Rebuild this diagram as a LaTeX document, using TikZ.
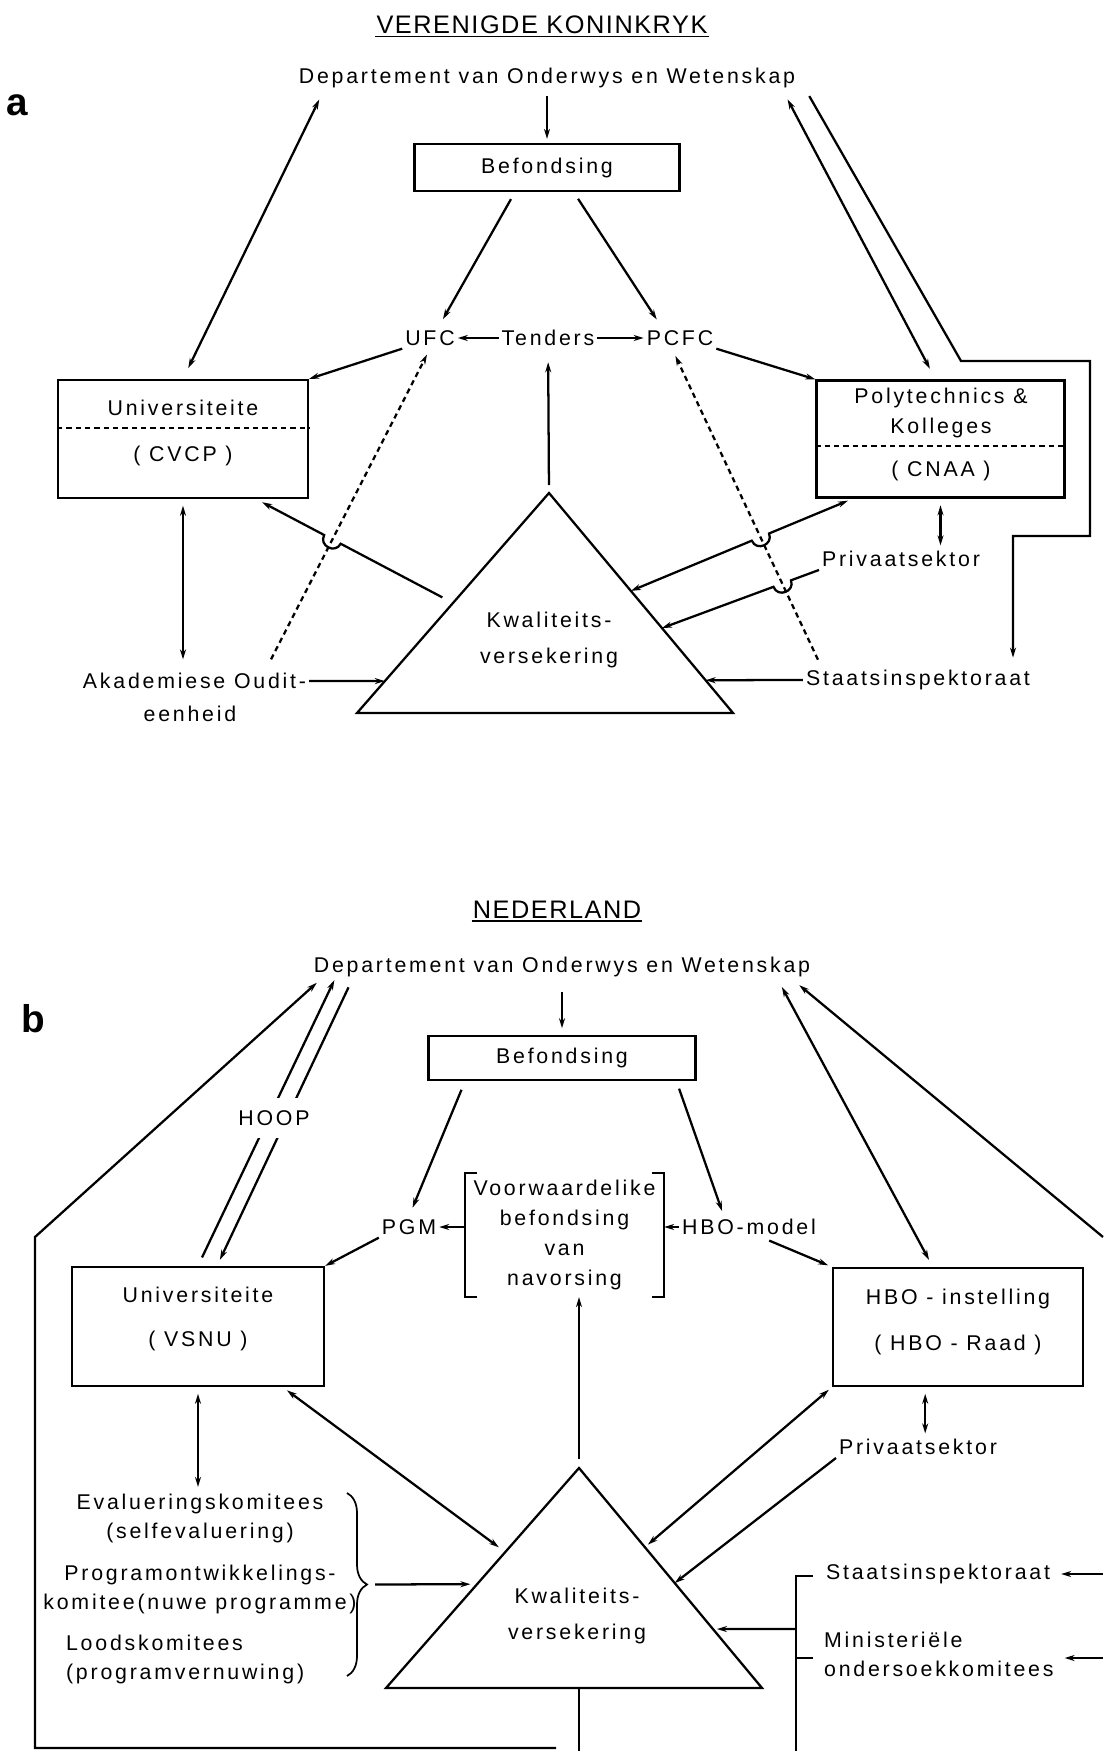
\documentclass[tikz,border=0pt]{standalone}
\usepackage{fontspec}
\setmainfont{Liberation Sans}[LetterSpace=13]
\newfontfamily\headfont{Liberation Sans}[LetterSpace=6]
\usetikzlibrary{calc,arrows.meta,intersections,decorations.pathreplacing}

\tikzset{
  arr/.style={-{Stealth[length=7.5pt,width=4.5pt]}},
  dbl/.style={{Stealth[length=7.5pt,width=4.5pt]}-{Stealth[length=7.5pt,width=4.5pt]}},
  dsh/.style={dash pattern=on 4pt off 3pt},
  txt/.style={inner sep=1.5pt},
  boxnode/.style={draw, inner sep=0pt},
  head/.style={inner xsep=0pt, inner ysep=1pt, font=\headfont\fontsize{19}{22}\selectfont},
  panel/.style={inner sep=0pt, font=\fontsize{29}{30}\selectfont\bfseries},
  twoline/.style={inner sep=1.5pt, align=center, font=\fontsize{16}{21.75}\selectfont},
  kwal/.style={inner sep=1.5pt, align=center, font=\fontsize{16}{27}\selectfont},
  bracketnode/.style={inner sep=0pt, align=center, font=\fontsize{16}{22.5}\selectfont},
}

\begin{document}
\begin{tikzpicture}[x=0.75pt,y=0.75pt,yscale=-1,xscale=1, line width=1.7pt, font=\fontsize{16}{19}\selectfont]
\path [use as bounding box, fill=white] (0,0) rectangle (1103,1751);

%%%%%%%% a : Verenigde Koninkryk

% Text Node
\draw (542,25) node [head] (ttlA) {VERENIGDE KONINKRYK};
\draw [line width=1.1pt] (ttlA.south west) -- (ttlA.south east);
% Text Node
\draw (17,105) node [panel] (labA) {a};
% Text Node
\draw (547,78) node [txt] (deptA) {Departement van Onderwys en Wetenskap};
% Shape: Rectangle
\draw (547,167.5) node [boxnode, minimum width=198.75pt, minimum height=35.25pt] (befA) {Befondsing};
% Text Node
\draw (430,338) node [txt] (ufcA) {UFC};
% Text Node
\draw (548,338) node [txt] (tendA) {Tenders};
% Text Node
\draw (680,338) node [txt] (pcfcA) {PCFC};

% Shape: Rectangle
\draw (183,439) node [boxnode, minimum width=187.5pt, minimum height=88.5pt] (univA) {};
\draw (183,408) node [txt] (univAt) {Universiteite};
\draw (183,456) node [txt] (cvcpA) {( CVCP )};
\draw [dsh] (univA.west |- 0,428) -- (univA.east |- 0,428);

% Shape: Rectangle
\draw (940.5,439) node [boxnode, minimum width=186pt, minimum height=87.75pt] (polyA) {};
\draw (941,398) node [txt] (polyAt1) {Polytechnics \&};
\draw (941,428) node [txt] (polyAt2) {Kolleges};
\draw (941,471) node [txt] (cnaaA) {( CNAA )};
\draw [dsh] (polyA.west |- 0,446) -- (polyA.east |- 0,446);

% Shape: Triangle
\coordinate (tAa) at (549,493);
\coordinate (tAl) at (357,713);
\coordinate (tAr) at (733,713);
\draw (tAa) -- (tAl) -- (tAr) -- cycle;
\draw (549,640) node [kwal] (kwalA) {Kwaliteits-\\versekering};

% Text Node
\draw (194.5,681) node [txt] (akadA) {Akademiese Oudit-};
\draw (190,714) node [txt] (eenhA) {eenheid};
% Text Node
\draw (918,680) node [txt] (staatsA) {Staatsinspektoraat};
% Text Node
\draw (901,559) node [txt] (privA) {Privaatsektor};

%Straight Lines
\draw [arr, shorten <=4pt, shorten >=3pt] (deptA) -- (befA);
\draw [arr, shorten <=6pt, shorten >=7pt] ($(befA.south)!0.24!(befA.south west)$) -- ($(ufcA.north)!0.3!(ufcA.north east)$);
\draw [arr, shorten <=6pt, shorten >=7pt] ($(befA.south)!0.2!(befA.south east)$) -- ($(pcfcA.north)!0.5!(pcfcA.north west)$);
\draw [arr] (tendA) -- (ufcA);
\draw [arr] (tendA) -- (pcfcA);
\draw [arr] (ufcA.south west) -- (univA.north east);
\draw [arr] (pcfcA.south east) -- (polyA.north west);
\draw [arr, shorten <=6pt, shorten >=10pt] (tAa) -- (tendA);
\draw [dbl, shorten <=7pt, shorten >=9pt] ($(deptA.south west)!0.055!(deptA.south east)$) -- (univA.north);
\draw [dbl, shorten <=7pt, shorten >=9pt] ($(deptA.south west)!0.97!(deptA.south east)$) -- ($(polyA.north west)!0.48!(polyA.north east)$);

%Straight Lines: loop to Staatsinspektoraat
\coordinate (lpA1) at (961,361);
\coordinate (lpA2) at (1090,361);
\coordinate (lpA3) at (1090,536);
\coordinate (lpA4) at (1013,536);
\draw [arr, shorten >=7pt] ($(deptA.south east)+(11,5)$) -- (lpA1) -- (lpA2) -- (lpA3) -- (lpA4) -- (lpA4 |- staatsA.north);

\draw [dbl, shorten <=5pt, shorten >=8pt] (univA.south) -- (univA.south |- akadA.north);
\coordinate (kA1) at ($(tAa)!0.855!(tAl)$);
\coordinate (kA2) at ($(tAa)!0.851!(tAr)$);
\draw [arr] (akadA.east) -- (kA1);
\draw [arr] (staatsA.west) -- (kA2);
\draw [dbl, shorten <=5pt, shorten >=2pt] (polyA.south) -- (polyA.south |- privA.north);

%Dashed Lines
\draw [arr, dsh, name path=dshA1, shorten <=9pt, shorten >=5pt] ($(akadA.north west)!0.81!(akadA.north east)$) -- (ufcA.south);
\draw [arr, dsh, name path=dshA2, shorten <=6pt, shorten >=6pt] ($(staatsA.north west)!0.08!(staatsA.north east)$) -- ($(pcfcA.south west)!0.39!(pcfcA.south east)$);

%Lines with hops
\coordinate (sA1) at ($(tAa)!0.5!(tAl)$);
\coordinate (eA1) at ($(univA.south east)!0.21!(univA.south west)$);
\path [name path=solA1] (sA1) -- (eA1);
\path [name intersections={of=solA1 and dshA1, by=xA1}];
\coordinate (xA1a) at ($(xA1)!7pt!(sA1)$);
\coordinate (xA1b) at ($(xA1)!7pt!(eA1)$);
\draw [arr, shorten <=9pt, shorten >=5pt] (sA1) -- (xA1a) .. controls ($(xA1a)!9pt!-90:(xA1b)$) and ($(xA1b)!9pt!90:(xA1a)$) .. (xA1b) -- (eA1);

\coordinate (sA2) at ($(tAa)!0.445!(tAr)$);
\coordinate (eA2) at ($(polyA.south west)!0.15!(polyA.south east)$);
\path [name path=solA2] (sA2) -- (eA2);
\path [name intersections={of=solA2 and dshA2, by=xA2}];
\coordinate (xA2a) at ($(xA2)!7pt!(sA2)$);
\coordinate (xA2b) at ($(xA2)!7pt!(eA2)$);
\draw [dbl, shorten >=4pt] (sA2) -- (xA2a) .. controls ($(xA2a)!9pt!90:(xA2b)$) and ($(xA2b)!9pt!-90:(xA2a)$) .. (xA2b) -- (eA2);

\coordinate (sA3) at (privA.south west);
\coordinate (eA3) at ($(tAa)!0.614!(tAr)$);
\path [name path=solA3] (sA3) -- (eA3);
\path [name intersections={of=solA3 and dshA2, by=xA3}];
\coordinate (xA3a) at ($(xA3)!7pt!(sA3)$);
\coordinate (xA3b) at ($(xA3)!7pt!(eA3)$);
\draw [arr] (sA3) -- (xA3a) .. controls ($(xA3a)!9pt!-90:(xA3b)$) and ($(xA3b)!9pt!90:(xA3a)$) .. (xA3b) -- (eA3);

%%%%%%%% b : Nederland

% Text Node
\draw (557,910) node [head] (ttlB) {NEDERLAND};
\draw [line width=1.1pt] (ttlB.south west) -- (ttlB.south east);
% Text Node
\draw (33,1019) node [panel] (labB) {b};
% Text Node
\draw (562,967) node [txt] (deptB) {Departement van Onderwys en Wetenskap};
% Shape: Rectangle
\draw (562,1058) node [boxnode, minimum width=200.25pt, minimum height=33pt] (befB) {Befondsing};
% Text Node
\draw (409,1227) node [txt] (pgmB) {PGM};
\draw (749,1227) node [txt] (hbomB) {HBO-model};
% Text Node
\draw (564.5,1235) node [bracketnode, minimum width=147.75pt, minimum height=91.5pt] (vorwB) {Voorwaardelike\\befondsing\\van\\navorsing};
\draw ($(vorwB.north west)+(12,0)$) -- (vorwB.north west) -- (vorwB.south west) -- ++(12,0);
\draw ($(vorwB.north east)+(-12,0)$) -- (vorwB.north east) -- (vorwB.south east) -- ++(-12,0);

% Shape: Rectangle
\draw (198,1326.5) node [boxnode, minimum width=189pt, minimum height=89.25pt] (univB) {};
\draw (198,1295) node [txt] (univBt) {Universiteite};
\draw (198,1341) node [txt] (vsnuB) {( VSNU )};
% Shape: Rectangle
\draw (958,1327) node [boxnode, minimum width=187.5pt, minimum height=88.5pt] (hboB) {};
\draw (958,1299) node [txt] (hboBt) {HBO - instelling};
\draw (958,1345) node [txt] (raadB) {( HBO - Raad )};

% Shape: Triangle
\coordinate (tBa) at (579,1468);
\coordinate (tBl) at (386,1688);
\coordinate (tBr) at (762,1688);
\draw (tBa) -- (tBl) -- (tBr) -- cycle;
\draw (577,1616) node [kwal] (kwalB) {Kwaliteits-\\versekering};

% Text Node
\draw (918,1447) node [txt] (privB) {Privaatsektor};
\draw (200,1518.5) node [twoline] (evalB) {Evalueringskomitees\\(selfevaluering)};
\draw (200,1589.5) node [twoline] (progB) {Programontwikkelings-\\komitee(nuwe programme)};
\draw (63,1659.5) node [twoline, align=left, anchor=west] (loodB) {Loodskomitees\\(programvernuwing)};
\draw (823,1574) node [txt, anchor=west] (staatsB) {Staatsinspektoraat};
\draw (821,1654.5) node [twoline, align=left, anchor=west] (minB) {Ministeriële\\ondersoekkomitees};

%Straight Lines
\draw [arr, shorten <=9pt, shorten >=5pt] (deptB) -- (befB);
\draw [arr, shorten <=7pt, shorten >=7pt] ($(befB.south)!0.72!(befB.south west)$) -- (pgmB.north);
\draw [arr, shorten <=6pt, shorten >=4pt] ($(befB.south)!0.85!(befB.south east)$) -- ($(hbomB.north west)!0.32!(hbomB.north east)$);
\draw [arr] (vorwB.west |- pgmB.east) -- (pgmB.east);
\draw [arr] (hbomB.west) -- (vorwB.east |- hbomB.west);
\draw [arr] (pgmB.south west) -- (univB.north east);
\draw [arr, shorten <=5pt, shorten >=3pt] ($(hbomB.south west)!0.6!(hbomB.south east)$) -- (hboB.north west);
\draw [arr, shorten <=7pt] (tBa) -- (tBa |- vorwB.south);

% HOOP lines
\draw [arr, shorten <=7pt] (univB.north) -- ($(deptB.south west)!0.047!(deptB.south east)$);
\draw [arr, shorten <=6pt, shorten >=5pt] ($(deptB.south west)!0.082!(deptB.south east)$) -- ($(univB.north)!0.15!(univB.north east)$);
\draw (274,1118) node [txt, fill=white, inner ysep=9.5pt] (hoopB) {HOOP};

\draw [dbl, shorten <=6pt, shorten >=6pt] ($(deptB.south west)!0.93!(deptB.south east)$) -- ($(hboB.north west)!0.4!(hboB.north east)$);
\coordinate (edB1) at (1103,1237);
\draw [arr, shorten >=6pt] (edB1) -- ($(deptB.south west)!0.96!(deptB.south east)$);

% outer loop left
\coordinate (lpB0) at (556,1748);
\coordinate (lpB1) at (35,1748);
\coordinate (lpB2) at (35,1237);
\draw [arr, shorten >=3pt] (lpB0) -- (lpB1) -- (lpB2) -- ($(deptB.south west)!0.018!(deptB.south east)$);
\draw (tBa |- tBl) -- (tBa |- 0,1751);

\draw [dbl, shorten <=5pt, shorten >=3pt] (univB.south) -- (univB.south |- evalB.north);
\draw [dbl, shorten <=6pt, shorten >=4pt] ($(tBa)!0.382!(tBl)$) -- ($(univB.south east)!0.167!(univB.south west)$);
\draw [dbl, shorten <=3pt, shorten >=3pt] (hboB.south west) -- ($(tBa)!0.36!(tBr)$);
\draw [arr] (privB.south west) -- ($(tBa)!0.523!(tBr)$);
\coordinate (hpB) at ($(hboB.south west)!0.37!(hboB.south east)$);
\draw [dbl, shorten <=5pt, shorten >=2pt] (hpB) -- (hpB |- privB.north);

% Brace
\coordinate (brB1) at (347,1493);
\coordinate (brB2) at (347,1676);
\coordinate (brB3) at (367,1584.5);
\draw [line width=1.3pt, decorate, decoration={brace, amplitude=15pt}] (brB1) -- (brB2);
\draw [arr, shorten <=6pt, shorten >=5pt] (brB3) -- ($(tBa)!0.528!(tBl)$);

% Bracket right
\coordinate (bkB1) at (813,1576);
\coordinate (bkB2) at (796,1576);
\coordinate (bkB3) at (796,1751);
\coordinate (bkB4) at (796,1658);
\coordinate (bkB5) at (813,1658);
\coordinate (bkB6) at (796,1629);
\draw (bkB1) -- (bkB2) -- (bkB3);
\draw (bkB4) -- (bkB5);
\draw [arr, shorten >=3pt] (bkB6) -- ($(tBa)!0.732!(tBr)$);
\coordinate (edB2) at (1103,1574);
\coordinate (edB3) at (1103,1658);
\draw [arr, shorten >=6pt] (edB2) -- (staatsB.east);
\draw [arr, shorten >=6pt] (edB3) -- (edB3 -| minB.east);

\end{tikzpicture}
\end{document}
